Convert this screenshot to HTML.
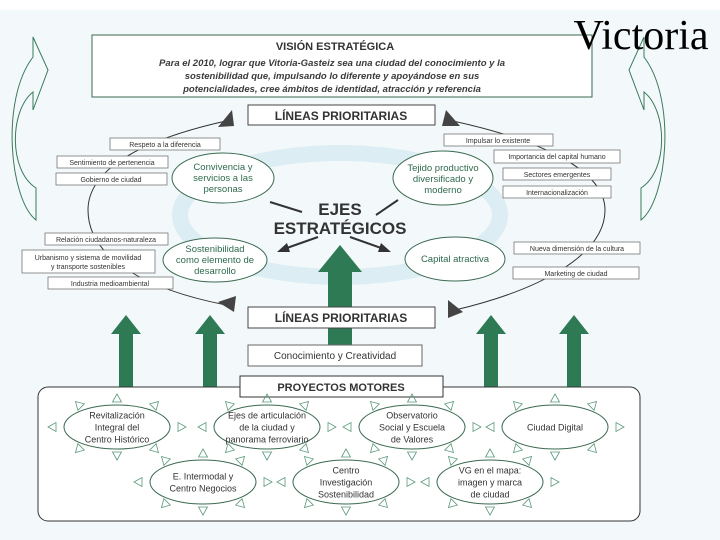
<!DOCTYPE html>
<html><head><meta charset="utf-8"><style>
html,body{margin:0;padding:0;background:#f3f9fa;}
svg{display:block;font-family:"Liberation Sans",sans-serif;}
</style></head><body>
<svg id="s" width="720" height="540" viewBox="0 0 720 540" xmlns="http://www.w3.org/2000/svg">
<rect width="720" height="540" fill="#f3f9fa"/>
<rect x="0" y="0" width="720" height="10" fill="#fff"/>
<ellipse cx="340" cy="215" rx="160" ry="62" fill="none" stroke="#dcedf3" stroke-width="16"/>
<path d="M36,220 C10,200 0,100 33,57 L33,37 L48,70 L33,110 L33,92 C10,110 8,170 36,188 Z" fill="none" stroke="#3a7a5a" stroke-width="1"/>
<path d="M641,220 C667,200 677,100 644,57 L644,37 L629,70 L644,110 L644,92 C667,110 669,170 641,188 Z" fill="none" stroke="#3a7a5a" stroke-width="1"/>
<rect x="92" y="35" width="500" height="62" fill="#fff" stroke="#3a6a50" stroke-width="1"/>
<text x="335" y="50" text-anchor="middle" font-size="11" font-weight="bold" fill="#333">VISIÓN ESTRATÉGICA</text>
<g font-size="9.5" font-style="italic" font-weight="bold" fill="#3a3a3a" text-anchor="middle">
<text x="332" y="66">Para el 2010, lograr que Vitoria-Gasteiz sea una ciudad del conocimiento y la</text>
<text x="332" y="79">sostenibilidad que, impulsando lo diferente y apoyándose en sus</text>
<text x="332" y="92">potencialidades, cree ámbitos de identidad, atracción y referencia</text>
</g>
<text x="641" y="49" text-anchor="middle" font-family="Liberation Serif,serif" font-size="42" fill="#000">Victoria</text>
<g fill="none" stroke="#333" stroke-width="1">
<path d="M226,121 C140,140 88,170 88,210 C88,260 150,290 226,305"/>
<path d="M453,121 C540,140 605,170 605,210 C605,255 540,290 455,310"/>
</g>
<polygon points="232,110 218,127 234,126" fill="#444"/>
<polygon points="446,110 442,126 460,126" fill="#444"/>
<polygon points="218,302 236,296 234,312" fill="#444"/>
<polygon points="448,300 463,312 448,318" fill="#444"/>
<rect x="248" y="105" width="187" height="20" fill="#fff" stroke="#444"/>
<text x="341" y="120" text-anchor="middle" font-size="12" font-weight="bold" fill="#333">LÍNEAS PRIORITARIAS</text>
<g fill="#fff" stroke="#777" stroke-width="0.8">
<rect x="110" y="138" width="110" height="12"/><rect x="57" y="156" width="111" height="12"/><rect x="56" y="173" width="111" height="12"/>
<rect x="45" y="233" width="123" height="12"/><rect x="22" y="250" width="133" height="23"/><rect x="48" y="277" width="125" height="12"/>
<rect x="444" y="134" width="109" height="12"/><rect x="494" y="150" width="126" height="13"/><rect x="503" y="168" width="108" height="12"/><rect x="503" y="186" width="108" height="12"/>
<rect x="514" y="242" width="126" height="12"/><rect x="513" y="267" width="126" height="12"/>
</g>
<g font-size="7" fill="#333" text-anchor="middle">
<text x="165" y="147">Respeto a la diferencia</text><text x="112" y="165">Sentimiento de pertenencia</text><text x="111" y="182">Gobierno de ciudad</text>
<text x="106" y="242">Relación ciudadanos-naturaleza</text><text x="88" y="260">Urbanismo y sistema de movilidad</text><text x="88" y="269">y transporte sostenibles</text><text x="110" y="286">Industria medioambiental</text>
<text x="498" y="143">Impulsar lo existente</text><text x="557" y="159">Importancia del capital humano</text><text x="557" y="177">Sectores emergentes</text><text x="557" y="195">Internacionalización</text>
<text x="577" y="251">Nueva dimensión de la cultura</text><text x="576" y="276">Marketing de ciudad</text>
</g>
<g fill="#fff" stroke="#3a6a50" stroke-width="1">
<ellipse cx="223" cy="178" rx="51" ry="25"/><ellipse cx="443" cy="178" rx="50" ry="27"/>
<ellipse cx="215" cy="260" rx="52" ry="22"/><ellipse cx="455" cy="259" rx="50" ry="22"/>
</g>
<g font-size="9.5" fill="#2f6a4e" text-anchor="middle">
<text x="223" y="170">Convivencia y</text><text x="223" y="181">servicios a las</text><text x="223" y="192">personas</text>
<text x="443" y="171">Tejido productivo</text><text x="443" y="182">diversificado y</text><text x="443" y="193">moderno</text>
<text x="215" y="252">Sostenibilidad</text><text x="215" y="263">como elemento de</text><text x="215" y="274">desarrollo</text>
<text x="455" y="262">Capital atractiva</text>
</g>
<polygon points="340,245 362,272 352,272 352,345 328,345 328,272 318,272" fill="#2e7a55"/>
<text x="340" y="215" text-anchor="middle" font-size="17" font-weight="bold" fill="#333">EJES</text>
<text x="340" y="234" text-anchor="middle" font-size="17" font-weight="bold" fill="#333">ESTRATÉGICOS</text>
<g stroke="#333" stroke-width="2">
<line x1="270" y1="202" x2="302" y2="212"/><line x1="376" y1="215" x2="398" y2="200"/>
<line x1="318" y1="237" x2="284" y2="249"/><line x1="350" y1="237" x2="384" y2="249"/>
</g>
<polygon points="277,252 287,243 290,252" fill="#333"/><polygon points="391,252 381,243 378,252" fill="#333"/>
<rect x="248" y="307" width="187" height="21" fill="#fff" stroke="#444"/>
<text x="341" y="322" text-anchor="middle" font-size="12" font-weight="bold" fill="#333">LÍNEAS PRIORITARIAS</text>
<rect x="248" y="345" width="174" height="21" fill="#fff" stroke="#666"/>
<text x="335" y="359" text-anchor="middle" font-size="10" fill="#333">Conocimiento y Creatividad</text>
<g fill="#2e7a55">
<polygon points="126,315 141,334 133,334 133,390 119,390 119,334 111,334"/>
<polygon points="210,315 225,334 217,334 217,390 203,390 203,334 195,334"/>
<polygon points="491,315 506,334 498,334 498,390 484,390 484,334 476,334"/>
<polygon points="574,315 589,334 581,334 581,390 567,390 567,334 559,334"/>
</g>
<rect x="38" y="387" width="602" height="134" rx="10" fill="#fff" stroke="#333"/>
<rect x="240" y="376" width="203" height="21" fill="#fff" stroke="#333"/>
<text x="341" y="391" text-anchor="middle" font-size="11" font-weight="bold" fill="#333">PROYECTOS MOTORES</text>
<g id="proj"></g>
</svg>
<script>
var P=[[117,427,["Revitalización","Integral del","Centro Histórico"]],[267,427,["Ejes de articulación","de la ciudad y","panorama ferroviario"]],[412,427,["Observatorio","Social y Escuela","de Valores"]],[555,427,["Ciudad Digital"]],[203,482,["E. Intermodal y","Centro Negocios"]],[346,482,["Centro","Investigación","Sostenibilidad"]],[490,482,["VG en el mapa:","imagen y marca","de ciudad"]]];
var g=document.getElementById('proj'),h='';
var off=[[64,0],[38,22],[0,28],[-38,22],[-64,0],[-38,-22],[0,-28],[38,-22]];
P.forEach(function(p){var cx=p[0],cy=p[1];
h+='<ellipse cx="'+cx+'" cy="'+cy+'" rx="53" ry="22" fill="#fff" stroke="#3a6a50"/>';
for(var k=0;k<8;k++){var a=k*Math.PI/4,x=cx+off[k][0],y=cy+off[k][1];
var d=a;var pts=[];[[5,0],[-3,4.5],[-3,-4.5]].forEach(function(q){pts.push((x+q[0]*Math.cos(d)-q[1]*Math.sin(d)).toFixed(1)+','+(y+q[0]*Math.sin(d)+q[1]*Math.cos(d)).toFixed(1));});
h+='<polygon points="'+pts.join(' ')+'" fill="none" stroke="#5a9a7a" stroke-width="0.8"/>';}
var n=p[2].length;p[2].forEach(function(t,i){h+='<text x="'+cx+'" y="'+(cy+3.5+(i-(n-1)/2)*12)+'" text-anchor="middle" font-size="9" fill="#333">'+t+'</text>';});});
g.innerHTML=h;
</script>
</body></html>
